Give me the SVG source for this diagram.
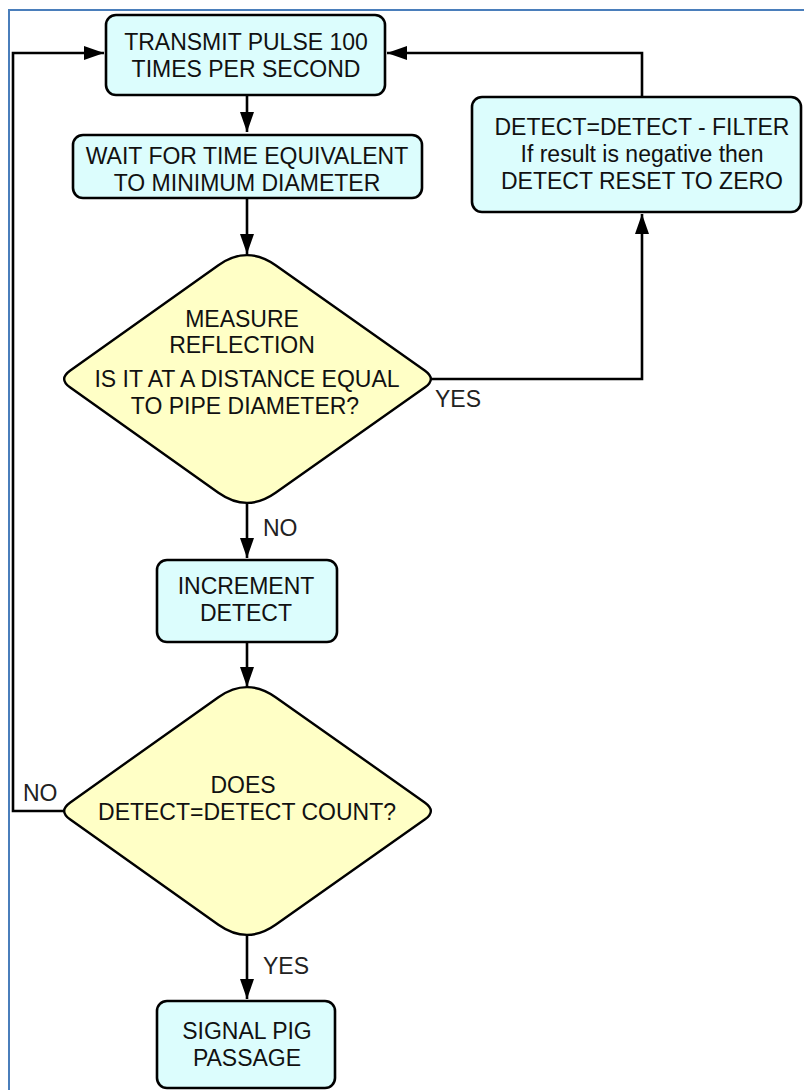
<svg xmlns="http://www.w3.org/2000/svg" width="804" height="1090" viewBox="0 0 804 1090">
<defs>
<style>
.box{fill:#dcfdfd;stroke:#000;stroke-width:2.6}
.dia{fill:#ffffc6;stroke:#000;stroke-width:2.4}
.t{font-family:"Liberation Sans",Arial,sans-serif;font-size:23px;fill:#111;text-anchor:middle}
.l{font-family:"Liberation Sans",Arial,sans-serif;font-size:23px;fill:#222}
.c{fill:none;stroke:#000;stroke-width:2.6}
</style>
<marker id="ah" viewBox="0 0 20 14" refX="20" refY="7" markerWidth="20" markerHeight="14" markerUnits="userSpaceOnUse" orient="auto">
<path d="M0,0 L20,7 L0,14 Z" fill="#000"/>
</marker>
</defs>
<rect width="804" height="1090" fill="#fff"/>
<path d="M9,1090 V10 H804" fill="none" stroke="#4a7ebb" stroke-width="2"/>

<g id="connectors">
<path class="c" d="M247,95 V132" marker-end="url(#ah)"/>
<path class="c" d="M247,198 V254" marker-end="url(#ah)"/>
<path class="c" d="M247,503 V558" marker-end="url(#ah)"/>
<path class="c" d="M247,642 V687" marker-end="url(#ah)"/>
<path class="c" d="M247,934 V999" marker-end="url(#ah)"/>
<path class="c" d="M430,379 H642 V214" marker-end="url(#ah)"/>
<path class="c" d="M642,97 V53 H387" marker-end="url(#ah)"/>
<path class="c" d="M64,811 H13 V53 H104" marker-end="url(#ah)"/>
<text class="l" x="435" y="407">YES</text>
<text class="l" x="263" y="536">NO</text>
<text class="l" x="263" y="974">YES</text>
<text class="l" x="23" y="801">NO</text>
</g>

<g id="transmit">
<rect class="box" x="106" y="15" width="279" height="80" rx="10"/>
<text class="t" x="246" y="50">TRANSMIT PULSE 100</text>
<text class="t" x="246" y="77">TIMES PER SECOND</text>
</g>

<g id="wait">
<rect class="box" x="73" y="135" width="349" height="63" rx="10"/>
<text class="t" x="247" y="164">WAIT FOR TIME EQUIVALENT</text>
<text class="t" x="247" y="191">TO MINIMUM DIAMETER</text>
</g>

<g id="measure">
<path class="dia" d="M218.4,265.2 Q247,245 275.6,265.2 L424.7,370.4 Q437,379 424.7,387.6 L275.6,492.8 Q247,513 218.4,492.8 L70.3,387.6 Q58,379 70.3,370.4 Z"/>
<text class="t" x="242" y="327">MEASURE</text>
<text class="t" x="242" y="353">REFLECTION</text>
<text class="t" x="247" y="387">IS IT AT A DISTANCE EQUAL</text>
<text class="t" x="245" y="414">TO PIPE DIAMETER?</text>
</g>

<g id="filter">
<rect class="box" x="472" y="97" width="329" height="115" rx="10"/>
<text class="t" x="642" y="135">DETECT=DETECT - FILTER</text>
<text class="t" x="642" y="162">If result is negative then</text>
<text class="t" x="642" y="189">DETECT RESET TO ZERO</text>
</g>

<g id="increment">
<rect class="box" x="157" y="560" width="180" height="82" rx="10"/>
<text class="t" x="246" y="594">INCREMENT</text>
<text class="t" x="246" y="621">DETECT</text>
</g>

<g id="count">
<path class="dia" transform="translate(0,432)" d="M218.4,265.2 Q247,245 275.6,265.2 L424.7,370.4 Q437,379 424.7,387.6 L275.6,492.8 Q247,513 218.4,492.8 L70.3,387.6 Q58,379 70.3,370.4 Z"/>
<text class="t" x="243" y="793">DOES</text>
<text class="t" x="247" y="820">DETECT=DETECT COUNT?</text>
</g>

<g id="signal">
<rect class="box" x="157" y="1001" width="178" height="87" rx="10"/>
<text class="t" x="247" y="1039">SIGNAL PIG</text>
<text class="t" x="247" y="1066">PASSAGE</text>
</g>
</svg>
